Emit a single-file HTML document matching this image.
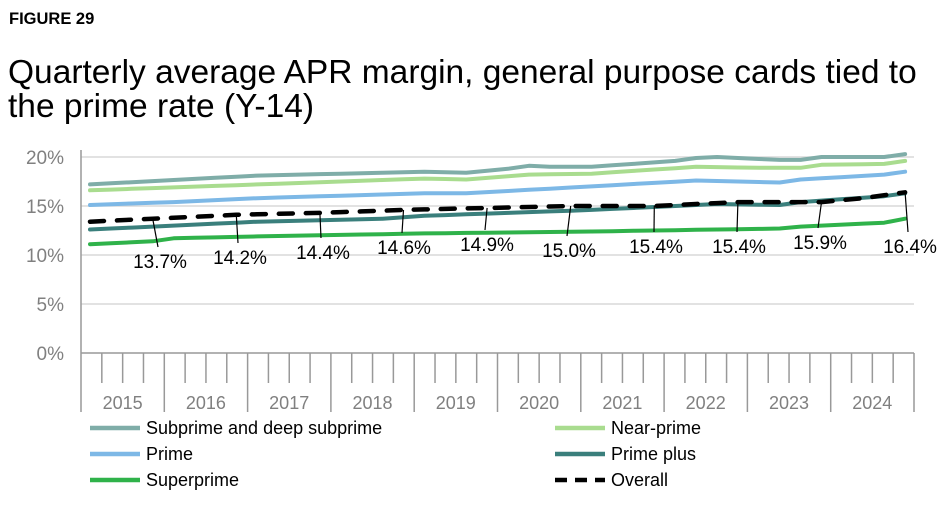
<!DOCTYPE html>
<html><head><meta charset="utf-8"><style>
body{margin:0;background:#fff;font-family:"Liberation Sans",Arial,sans-serif;}
svg text{font-family:"Liberation Sans",Arial,sans-serif;}
</style></head><body>
<svg id="s" width="952" height="502" xmlns="http://www.w3.org/2000/svg">
<text x="9" y="24" font-size="16.5" font-weight="bold" fill="#000">FIGURE 29</text>
<text x="8" y="83" font-size="33.5" fill="#000">Quarterly average APR margin, general purpose cards tied to</text>
<text x="8" y="117" font-size="33.5" fill="#000">the prime rate (Y-14)</text>
<g id="g"></g>
</svg>
<script>
var g=document.getElementById('g'),h='';
function Y(v){return 353-v*9.8;}
function X(i){return 90+i*20.9;}
[5,10,15,20].forEach(function(v){h+='<line x1="81" x2="914" y1="'+Y(v)+'" y2="'+Y(v)+'" stroke="#d9d9d9" stroke-width="1.5"/>';});
[0,5,10,15,20].forEach(function(v){h+='<text x="64" y="'+(Y(v)+7)+'" font-size="19" fill="#808080" text-anchor="end">'+v+'%</text>';});
h+='<line x1="81" x2="81" y1="150" y2="412" stroke="#999" stroke-width="1.5"/>';
h+='<line x1="81" x2="914" y1="353" y2="353" stroke="#999" stroke-width="1.5"/>';
for(var q=1;q<=40;q++){var x=81+q*20.825;var yr=q%4==0;h+='<line x1="'+x+'" x2="'+x+'" y1="353" y2="'+(yr?412:383)+'" stroke="#999" stroke-width="1.5"/>';}
for(var y=0;y<10;y++){h+='<text x="'+(81+y*83.3+41.6)+'" y="409" font-size="18" fill="#808080" text-anchor="middle">'+(2015+y)+'</text>';}
function interp(a){var out=[];for(var i=0;i<40;i++){for(var k=0;k<a.length-1;k++){if(i>=a[k][0]&&i<=a[k+1][0]){var t=(i-a[k][0])/(a[k+1][0]-a[k][0]);out.push(a[k][1]+t*(a[k+1][1]-a[k][1]));break;}}}return out;}
function path(v){return v.map(function(y,i){return (i?'L':'M')+X(i).toFixed(1)+','+Y(y).toFixed(1);}).join('');}
var S=[
 ['#7fada8',[[0,17.2],[8,18.1],[16,18.5],[18,18.4],[20,18.8],[21,19.1],[22,19.0],[24,19.0],[28,19.6],[29,19.9],[30,20.0],[33,19.7],[34,19.7],[35,20.0],[38,20.0],[39,20.3]],0],
 ['#a9dc8f',[[0,16.6],[8,17.2],[16,17.8],[18,17.7],[21,18.2],[24,18.3],[29,19.0],[32,18.9],[34,18.9],[35,19.2],[38,19.3],[39,19.6]],0],
 ['#7db8e6',[[0,15.1],[4,15.4],[8,15.8],[16,16.3],[18,16.3],[24,17.0],[29,17.6],[33,17.4],[34,17.7],[38,18.2],[39,18.5]],0],
 ['#3a7f7c',[[0,12.6],[8,13.4],[14,13.7],[16,14.0],[24,14.6],[28,15.0],[30,15.2],[33,15.1],[34,15.4],[38,16.0],[39,16.3]],0],
 ['#2fb24a',[[0,11.1],[3,11.4],[4,11.7],[8,11.9],[16,12.2],[24,12.4],[30,12.6],[33,12.7],[34,12.9],[38,13.3],[39,13.7]],0],
 ['#000',[[0,13.4],[3,13.7],[7,14.1],[11,14.3],[15,14.6],[19,14.8],[23,15.0],[27,15.0],[31,15.4],[35,15.4],[37,15.8],[39,16.4]],1]
];
var ov;
S.forEach(function(s){var v=interp(s[1]);if(s[2])ov=v;
 h+='<path d="'+path(v)+'" fill="none" stroke="'+s[0]+'" stroke-width="'+(s[2]?4.5:4)+'" stroke-linecap="round" stroke-linejoin="round"'+(s[2]?' stroke-dasharray="14,13"':'')+'/>';});
var L=[['13.7%',160,268],['14.2%',240,264],['14.4%',323,259],['14.6%',404,254],['14.9%',487,251],['15.0%',569,257],['15.4%',656,253],['15.4%',739,253],['15.9%',820,249],['16.4%',910,253]];
L.forEach(function(l,k){var i=3+4*k;var px=X(i),py=Y(ov[i]);h+='<line x1="'+px+'" y1="'+py+'" x2="'+(l[1]-2)+'" y2="'+(l[2]-21)+'" stroke="#000" stroke-width="1.2"/>';
 h+='<text x="'+l[1]+'" y="'+l[2]+'" font-size="19" text-anchor="middle" fill="#000">'+l[0]+'</text>';});
var LG=[['#7fada8','Subprime and deep subprime',90,428],['#a9dc8f','Near-prime',555,428],['#7db8e6','Prime',90,454],['#3a7f7c','Prime plus',555,454],['#2fb24a','Superprime',90,480],['#000','Overall',555,480]];
LG.forEach(function(l){h+='<line x1="'+l[2]+'" x2="'+(l[2]+50)+'" y1="'+l[3]+'" y2="'+l[3]+'" stroke="'+l[0]+'" stroke-width="4.5"'+(l[1]=='Overall'?' stroke-dasharray="12,8"':'')+'/>';
 h+='<text x="'+(l[2]+56)+'" y="'+(l[3]+6)+'" font-size="18" fill="#000">'+l[1]+'</text>';});
g.innerHTML=h;
</script>
</body></html>
